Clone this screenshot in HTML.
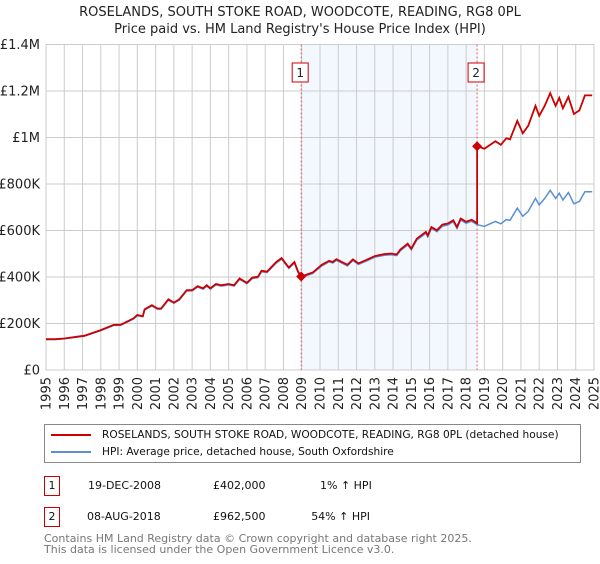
<!DOCTYPE html>
<html><head><meta charset="utf-8">
<style>
body{margin:0;background:#fff;font-family:"DejaVu Sans","Liberation Sans",sans-serif;}
svg text{font-family:"DejaVu Sans","Liberation Sans",sans-serif;}
</style></head>
<body>
<svg width="600" height="560" viewBox="0 0 600 560">
<g id="root"></g>
</svg>
<script>
const years=[1995,1995.5,1996,1997.1,1998,1998.7,1999.1,1999.8,2000,2000.3,2000.4,2000.8,2001.1,2001.3,2001.7,2002,2002.3,2002.7,2003,2003.3,2003.6,2003.8,2004,2004.3,2004.6,2005,2005.3,2005.6,2006,2006.3,2006.6,2006.8,2007.1,2007.6,2007.9,2008.2,2008.3,2008.6,2008.8,2008.97,2009.6,2010.1,2010.5,2010.7,2010.9,2011.5,2011.8,2012.1,2012.6,2013,2013.5,2013.9,2014.2,2014.4,2014.8,2015,2015.3,2015.8,2015.9,2016.1,2016.4,2016.7,2017,2017.3,2017.5,2017.7,2018,2018.3,2018.6,2019,2019.4,2019.6,2019.9,2020.2,2020.4,2020.8,2021.1,2021.4,2021.8,2022,2022.3,2022.6,2022.9,2023.1,2023.3,2023.6,2023.9,2024.2,2024.5,2024.9];
const hpiK=[131,131,134,146,170,192,193,220,234,229,258,276,262,262,301,287,301,340,340,357,348,361,348,366,361,366,361,390,371,394,397,423,419,460,477,446,437,460,419,398,415,448,465,460,472,448,471,454,471,485,493,496,492,513,538,517,559,588,573,609,595,619,624,638,609,645,631,640,625,618,632,639,629,647,644,696,661,682,738,710,738,773,738,760,731,763,715,725,767,767];
const sales=[{year:2008.97,price:402000,label:"1"},{year:2018.6,price:962500,label:"2"}];
const yTicks=[0,200000,400000,600000,800000,1000000,1200000,1400000];
const yTickLabels=["£0","£200K","£400K","£600K","£800K","£1M","£1.2M","£1.4M"];
const xTicks=[1995,1996,1997,1998,1999,2000,2001,2002,2003,2004,2005,2006,2007,2008,2009,2010,2011,2012,2013,2014,2015,2016,2017,2018,2019,2020,2021,2022,2023,2024,2025];

const L=46,R=594,T=44.5,B=370;
const x=v=>L+(v-1995)/30*(R-L);
const y=v=>B-v/1400000*(B-T);
const NS="http://www.w3.org/2000/svg";
const root=document.getElementById('root');
function mk(tag,attrs,parent){const e=document.createElementNS(NS,tag);for(const k in attrs)e.setAttribute(k,attrs[k]);(parent||root).appendChild(e);return e;}
function interp(yr){for(let i=1;i<years.length;i++){if(years[i]>=yr){const t=(yr-years[i-1])/(years[i]-years[i-1]);return (hpiK[i-1]+t*(hpiK[i]-hpiK[i-1]))*1000;}}return hpiK[hpiK.length-1]*1000;}

let sh=mk('rect',{x:x(sales[0].year),y:T,width:x(sales[1].year)-x(sales[0].year),height:B-T,fill:'#eef3fd',opacity:0.7});


yTicks.forEach((v,i)=>{
 let g=mk('line',{x1:L,x2:R,y1:y(v),y2:y(v),stroke:'#cccccc','stroke-width':1});
 
 
 let t=mk('text',{x:L-6,y:y(v)+4.5,'text-anchor':'end','font-size':13,fill:'#222'});
 t.textContent=yTickLabels[i];
 
 
});
xTicks.forEach(v=>{
 let g=mk('line',{x1:x(v),x2:x(v),y1:T,y2:B,stroke:'#cccccc','stroke-width':1});
 
 
 let t=mk('text',{x:0,y:0,'text-anchor':'end','font-size':13,fill:'#222',transform:`translate(${x(v)+4.5},${B+7}) rotate(-90)`});
 t.textContent=v;
 
 
});
let fr=mk('rect',{x:L,y:T,width:R-L,height:B-T,fill:'none',stroke:'#cccccc'});


sales.forEach(s=>{
 let l=mk('line',{x1:x(s.year),x2:x(s.year),y1:T,y2:B,stroke:'#e06060','stroke-width':1,'stroke-dasharray':'2,2'});
 
 
});
let hp=years.map((yr,i)=>x(yr).toFixed(1)+','+y(hpiK[i]*1000).toFixed(1)).join(' ');
let hl=mk('polyline',{points:hp,fill:'none',stroke:'#5b8fd4','stroke-width':1.5});


const f1=sales[0].price/interp(sales[0].year)*1.0, f2=sales[1].price/interp(sales[1].year);
let pts=[];
years.forEach((yr,i)=>{
 if(yr<sales[1].year){pts.push([x(yr),y(hpiK[i]*1000*f1)]);}
});
pts.push([x(sales[1].year),y(interp(sales[1].year)*f1)]);
pts.push([x(sales[1].year),y(sales[1].price)]);
years.forEach((yr,i)=>{ if(yr>sales[1].year)pts.push([x(yr),y(hpiK[i]*1000*f2)]); });
let pl=mk('polyline',{points:pts.map(p=>p[0].toFixed(1)+','+p[1].toFixed(1)).join(' '),fill:'none',stroke:'#cc0000','stroke-width':1.8});


sales.forEach(s=>{
 const cx=x(s.year),cy=y(s.price);
 let d=mk('polygon',{points:`${cx},${cy-5} ${cx+5},${cy} ${cx},${cy+5} ${cx-5},${cy}`,fill:'#cc0000'});
 
 
 let b=mk('rect',{x:cx-9,y:63,width:16,height:19,fill:'#fff',stroke:'#cc0000'});
 
 
 let t=mk('text',{x:cx-1,y:77,'text-anchor':'middle','font-size':12,fill:'#222'});
 t.textContent=s.label;
 
 
});
</script>
<div style="position:absolute;left:0;top:0;width:600px;">
<div style="position:absolute;left:0;width:600px;top:4px;text-align:center;font-size:13px;line-height:17px;color:#222;">ROSELANDS, SOUTH STOKE ROAD, WOODCOTE, READING, RG8 0PL<br>Price paid vs. HM Land Registry's House Price Index (HPI)</div>
<div style="position:absolute;left:44px;top:424px;width:535px;height:37px;border:1px solid #888;font-size:10.6px;color:#111;">
 <div style="position:absolute;left:6px;top:4px;white-space:nowrap;"><span style="display:inline-block;width:40px;height:2px;background:#cc0000;vertical-align:middle;margin-right:11px;"></span>ROSELANDS, SOUTH STOKE ROAD, WOODCOTE, READING, RG8 0PL (detached house)</div>
 <div style="position:absolute;left:6px;top:21px;white-space:nowrap;"><span style="display:inline-block;width:40px;height:2px;background:#5b8fd4;vertical-align:middle;margin-right:11px;"></span>HPI: Average price, detached house, South Oxfordshire</div>
</div>
<div style="position:absolute;top:476px;left:0;font-size:11px;color:#111;">
 <div style="position:absolute;left:44px;top:0;width:14px;height:18px;border:1px solid #cc0000;text-align:center;line-height:18px;">1</div>
 <div style="position:absolute;left:88px;top:3px;white-space:nowrap;">19-DEC-2008</div>
 <div style="position:absolute;left:213px;top:3px;white-space:nowrap;">£402,000</div>
 <div style="position:absolute;left:320px;width:50px;text-align:right;top:3px;white-space:nowrap;">1% ↑ HPI</div>
</div>
<div style="position:absolute;top:507px;left:0;font-size:11px;color:#111;">
 <div style="position:absolute;left:44px;top:0;width:14px;height:18px;border:1px solid #cc0000;text-align:center;line-height:18px;">2</div>
 <div style="position:absolute;left:87px;top:3px;white-space:nowrap;">08-AUG-2018</div>
 <div style="position:absolute;left:213px;top:3px;white-space:nowrap;">£962,500</div>
 <div style="position:absolute;left:300px;width:70px;text-align:right;top:3px;white-space:nowrap;">54% ↑ HPI</div>
</div>
<div style="position:absolute;left:44px;top:533px;font-size:11px;line-height:11px;color:#777;white-space:nowrap;">Contains HM Land Registry data © Crown copyright and database right 2025.<br>This data is licensed under the Open Government Licence v3.0.</div>
</div>
</body></html>
